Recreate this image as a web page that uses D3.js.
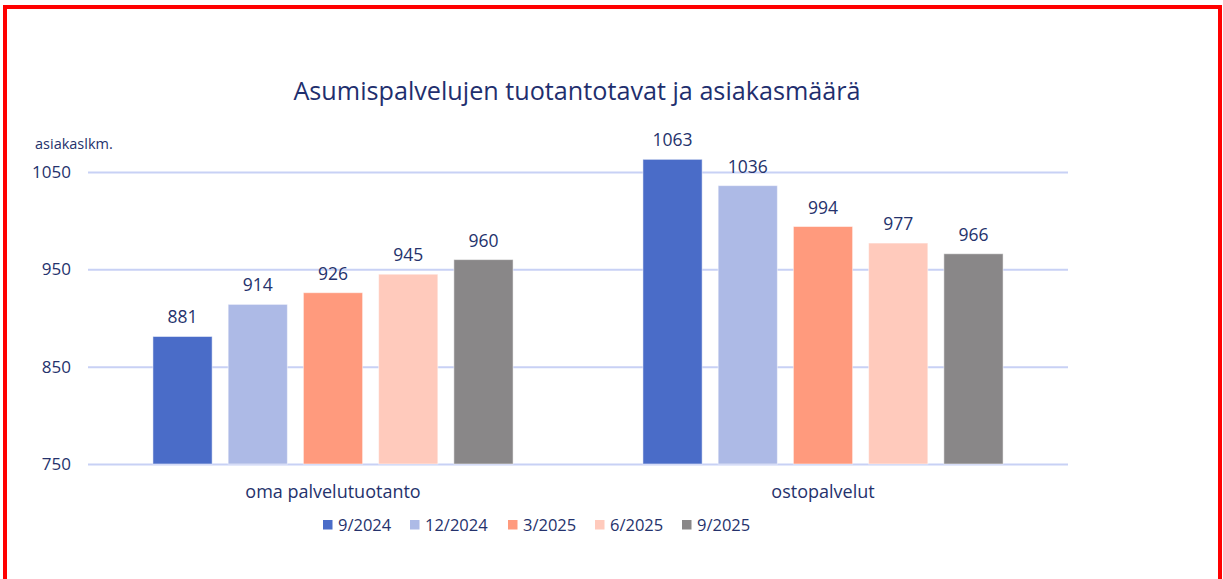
<!DOCTYPE html>
<html>
<head>
<meta charset="utf-8">
<script src="https://cdn.jsdelivr.net/npm/d3@7"></script>
<style>
  body { margin: 0; background: #fff; }
  svg { display: block; font-family: "Open Sans", sans-serif; }
</style>
</head>
<body>
<svg id="chart" width="1223" height="579"></svg>
<script>
// data
const categories = ['oma palvelutuotanto', 'ostopalvelut'];
const seriesNames = ['9/2024', '12/2024', '3/2025', '6/2025', '9/2025'];
const seriesColors = ['#4a6cc8', '#adbae6', '#ff9a7d', '#ffcabc', '#898788'];
const values = [
  [881, 914, 926, 945, 960],
  [1063, 1036, 994, 977, 966]
];
const yTicks = [750, 850, 950, 1050];

const svg = d3.select('#chart');
const textColor = '#25326c';

// frame
svg.append('rect')
  .attr('x', 5).attr('y', 7)
  .attr('width', 1215).attr('height', 574)
  .attr('fill', 'none')
  .attr('stroke', '#ff0000')
  .attr('stroke-width', 4);

const left = 88, right = 1068;

const y = d3.scaleLinear().domain([750, 1050]).range([464, 172]);

const x0 = d3.scaleBand()
  .domain(categories)
  .range([left, right])
  .paddingInner(0.265)
  .paddingOuter(0.1325);

const x1 = d3.scaleBand()
  .domain(seriesNames)
  .range([0, x0.bandwidth()])
  .paddingInner(0.213)
  .paddingOuter(0);

// title
svg.append('text')
  .attr('x', 577).attr('y', 100)
  .attr('text-anchor', 'middle')
  .attr('font-size', 25.2)
  .attr('fill', '#1f2f6e')
  .text('Asumispalvelujen tuotantotavat ja asiakasmäärä');

svg.append('text')
  .attr('x', 35).attr('y', 149)
  .attr('font-size', 14.5)
  .attr('fill', textColor)
  .text('asiakaslkm.');

// grid + y labels
const yAxis = svg.append('g')
  .attr('transform', 'translate(' + left + ',0)')
  .call(d3.axisLeft(y)
    .tickValues(yTicks)
    .tickFormat(d3.format('d'))
    .tickSize(-(right - left))
    .tickPadding(17));

yAxis.select('.domain').remove();
yAxis.selectAll('.tick line')
  .attr('stroke', '#c8d1f5')
  .attr('stroke-width', 2);
yAxis.selectAll('.tick text')
  .attr('font-size', 17)
  .attr('font-family', '"Open Sans", sans-serif')
  .attr('fill', textColor);

// bars
const groups = svg.append('g')
  .selectAll('g')
  .data(categories)
  .join('g')
  .attr('transform', function(d) {
    return 'translate(' + x0(d) + ',0)';
  });

groups.selectAll('rect')
  .data(function(d, i) {
    return seriesNames.map(function(s, j) {
      return { series: s, value: values[i][j], color: seriesColors[j] };
    });
  })
  .join('rect')
  .attr('x', function(d) { return x1(d.series); })
  .attr('y', function(d) { return y(d.value); })
  .attr('width', x1.bandwidth())
  .attr('height', function(d) { return y(750) - y(d.value); })
  .attr('fill', function(d) { return d.color; })
  .attr('stroke', '#ffffff')
  .attr('stroke-opacity', 0.5)
  .attr('stroke-width', 1);

groups.selectAll('text')
  .data(function(d, i) {
    return seriesNames.map(function(s, j) {
      return { series: s, value: values[i][j] };
    });
  })
  .join('text')
  .attr('x', function(d) { return x1(d.series) + x1.bandwidth() / 2; })
  .attr('y', function(d) { return y(d.value) - 13; })
  .attr('text-anchor', 'middle')
  .attr('font-size', 17.5)
  .attr('fill', textColor)
  .text(function(d) { return d.value; });

// category labels
svg.append('g')
  .selectAll('text')
  .data(categories)
  .join('text')
  .attr('x', function(d) { return x0(d) + x0.bandwidth() / 2; })
  .attr('y', 498)
  .attr('text-anchor', 'middle')
  .attr('font-size', 18)
  .attr('fill', textColor)
  .text(String);

// legend
const legendX = [323, 410, 508, 595, 682];
const legend = svg.append('g')
  .selectAll('g')
  .data(seriesNames)
  .join('g')
  .attr('transform', function(d, i) {
    return 'translate(' + legendX[i] + ',520)';
  });

legend.append('rect')
  .attr('width', 9.5).attr('height', 9.5)
  .attr('fill', function(d, i) { return seriesColors[i]; });

legend.append('text')
  .attr('x', 15).attr('y', 10.5)
  .attr('font-size', 16.5)
  .attr('fill', textColor)
  .text(String);
</script>
</body>
</html>
